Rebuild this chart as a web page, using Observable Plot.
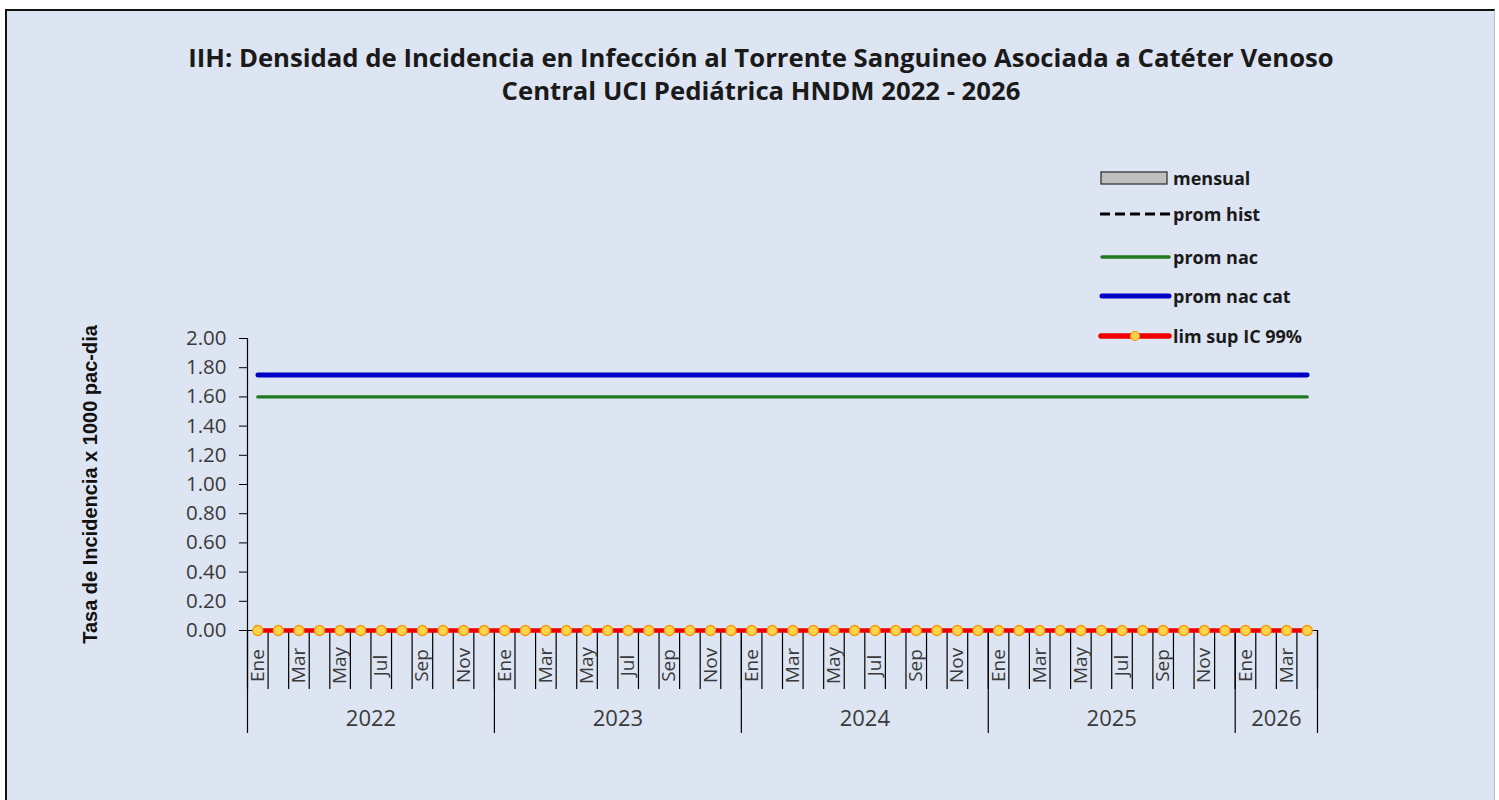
<!DOCTYPE html>
<html>
<head>
<meta charset="utf-8">
<script src="https://cdn.jsdelivr.net/npm/d3@7"></script>
<script src="https://cdn.jsdelivr.net/npm/@observablehq/plot@0.6"></script>
<style>
  html, body { margin: 0; padding: 0; background: #ffffff; width: 1499px; height: 800px; overflow: hidden; }
  #frame { position: absolute; left: 5px; top: 9px; width: 1487px; height: 800px; background: #dde4f2;
           border-top: 2px solid #111; border-left: 2px solid #111; border-right: 1px solid #b8bcc4; }
  #chart { position: absolute; left: 0; top: 0; }
  #title { position: absolute; left: 0; top: 30px; width: 1508px; text-align: center;
           font-family: "Open Sans", Lato, sans-serif; font-weight: 700; font-size: 25.7px; line-height: 33px; color: #1a1a1a; }
  #legend { position: absolute; left: 1086px; top: 160px; font-family: "Open Sans", sans-serif; font-weight: 700; font-size: 18px; color: #1a1a1a; }
  .item { position: absolute; left: 0; height: 24px; display: flex; align-items: center; white-space: nowrap; }
</style>
</head>
<body>
<div id="frame">
  <div id="chart"></div>
  <div id="title">IIH: Densidad de Incidencia en Infección al Torrente Sanguineo Asociada a Catéter Venoso<br>Central UCI Pediátrica HNDM 2022 - 2026</div>
  <div id="legend"></div>
</div>
<script>
// ---- data ----
const monthNames = ["Ene","Feb","Mar","Abr","May","Jun","Jul","Ago","Sep","Oct","Nov","Dic"];
const years = [2022, 2023, 2024, 2025, 2026];
const monthsPerYear = [12, 12, 12, 12, 4];
const yTicks = [0, 0.2, 0.4, 0.6, 0.8, 1.0, 1.2, 1.4, 1.6, 1.8, 2.0];

const mensual = [0,0,0,0,0,0,0,0,0,0,0,0, 0,0,0,0,0,0,0,0,0,0,0,0, 0,0,0,0,0,0,0,0,0,0,0,0, 0,0,0,0,0,0,0,0,0,0,0,0, 0,0,0,0];
const promHist = [0,0,0,0,0,0,0,0,0,0,0,0, 0,0,0,0,0,0,0,0,0,0,0,0, 0,0,0,0,0,0,0,0,0,0,0,0, 0,0,0,0,0,0,0,0,0,0,0,0, 0,0,0,0];
const promNac = [1.60,1.60,1.60,1.60,1.60,1.60,1.60,1.60,1.60,1.60,1.60,1.60, 1.60,1.60,1.60,1.60,1.60,1.60,1.60,1.60,1.60,1.60,1.60,1.60, 1.60,1.60,1.60,1.60,1.60,1.60,1.60,1.60,1.60,1.60,1.60,1.60, 1.60,1.60,1.60,1.60,1.60,1.60,1.60,1.60,1.60,1.60,1.60,1.60, 1.60,1.60,1.60,1.60];
const promNacCat = [1.75,1.75,1.75,1.75,1.75,1.75,1.75,1.75,1.75,1.75,1.75,1.75, 1.75,1.75,1.75,1.75,1.75,1.75,1.75,1.75,1.75,1.75,1.75,1.75, 1.75,1.75,1.75,1.75,1.75,1.75,1.75,1.75,1.75,1.75,1.75,1.75, 1.75,1.75,1.75,1.75,1.75,1.75,1.75,1.75,1.75,1.75,1.75,1.75, 1.75,1.75,1.75,1.75];
const limSup = [0,0,0,0,0,0,0,0,0,0,0,0, 0,0,0,0,0,0,0,0,0,0,0,0, 0,0,0,0,0,0,0,0,0,0,0,0, 0,0,0,0,0,0,0,0,0,0,0,0, 0,0,0,0];

// ---- build table ----
const rows = [];
const yearSpans = [];
let idx = 0;
years.forEach((yr, yi) => {
  yearSpans.push({year: yr, start: idx, end: idx + monthsPerYear[yi]});
  for (let m = 0; m < monthsPerYear[yi]; m++) {
    rows.push({i: idx, i2: idx + 1, c: idx + 0.5, year: yr, m, month: monthNames[m],
      mensual: mensual[idx], promHist: promHist[idx], promNac: promNac[idx],
      promNacCat: promNacCat[idx], limSup: limSup[idx]});
    idx++;
  }
});
const nCat = idx;
const boundaries = d3.range(0, nCat + 1);
const yearBounds = [...yearSpans.map(d => d.start), nCat];

const colors = {mensual: "#bfbfbf", hist: "#000000", nac: "#1f7a1f", cat: "#0000c8", lim: "#ee0000", dot: "#ffd34d", dotStroke: "#f29a00"};
const axisColor = "#000000";
const labelColor = "#3a3a3a";

const chart = Plot.plot({
  width: 1485,
  height: 780,
  marginTop: 327,
  marginLeft: 240,
  marginRight: 175,
  marginBottom: 161,
  style: {background: "transparent", fontFamily: "'Open Sans', sans-serif", color: labelColor},
  x: {type: "linear", domain: [0, nCat], axis: null},
  y: {type: "linear", domain: [0, 2], axis: null},
  marks: [
    // y axis
    Plot.axisY({ticks: yTicks, tickFormat: d3.format(".2f"), tickSize: 8, tickPadding: 13, fontSize: 20.5, stroke: axisColor, color: labelColor, label: null}),
    Plot.ruleX([0], {y1: 0, y2: 2, stroke: axisColor, strokeWidth: 1.2}),
    // y title
    Plot.text(["Tasa de Incidencia x 1000 pac-dia"], {frameAnchor: "left", rotate: -90, dx: -157, textAnchor: "middle", lineAnchor: "middle", fontFamily: "'Liberation Sans', Arial, sans-serif", fontWeight: "bold", fontSize: 20, fill: "#111"}),
    // category separators
    Plot.ruleX(boundaries, {x: d => d, y1: 0, y2: 0, insetBottom: -59, stroke: axisColor, strokeWidth: 1.2}),
    Plot.ruleX(yearBounds, {x: d => d, y1: 0, y2: 0, insetBottom: -103, stroke: axisColor, strokeWidth: 1.2}),
    // month labels
    Plot.text(rows.filter(d => d.m % 2 === 0), {x: "c", y: 0, text: "month", rotate: -90, dy: 35, textAnchor: "middle", lineAnchor: "middle", fontSize: 19, fill: labelColor}),
    // year labels
    Plot.text(yearSpans, {x: d => (d.start + d.end) / 2, y: 0, text: d => String(d.year), dy: 88, fontSize: 22, fill: labelColor}),
    // x baseline
    Plot.ruleY([0], {x1: 0, x2: nCat, stroke: axisColor, strokeWidth: 1.2}),
    // series
    Plot.rectY(rows, {x1: "i", x2: "i2", y: "mensual", insetLeft: 3, insetRight: 3, fill: colors.mensual}),
    Plot.line(rows, {x: "c", y: "promHist", stroke: colors.hist, strokeWidth: 3, strokeDasharray: "9,5"}),
    Plot.line(rows, {x: "c", y: "promNac", stroke: colors.nac, strokeWidth: 3.2, strokeLinecap: "round"}),
    Plot.line(rows, {x: "c", y: "promNacCat", stroke: colors.cat, strokeWidth: 4.8, strokeLinecap: "round"}),
    Plot.line(rows, {x: "c", y: "limSup", stroke: colors.lim, strokeWidth: 4.5, strokeLinecap: "round"}),
    Plot.dot(rows, {x: "c", y: "limSup", r: 5, fill: colors.dot, stroke: colors.dotStroke, strokeWidth: 1.3})
  ]
});
document.getElementById("chart").appendChild(chart);

// ---- legend ----
const legendItems = [
  {label: "mensual", type: "rect"},
  {label: "prom hist", type: "dash"},
  {label: "prom nac", type: "line", color: colors.nac, w: 3.5},
  {label: "prom nac cat", type: "line", color: colors.cat, w: 5},
  {label: "lim sup IC 99%", type: "lim"}
];
const legendTops = [-5, 31, 74, 113, 153];
const legend = document.getElementById("legend");
legendItems.forEach((it, k) => {
  const div = document.createElement("div");
  div.className = "item";
  div.style.top = legendTops[k] + "px";
  let sw = "";
  if (it.type === "rect") sw = `<rect x="8" y="4" width="66" height="12" fill="${colors.mensual}" stroke="#333" stroke-width="1.3"/>`;
  if (it.type === "dash") sw = `<line x1="7" y1="10" x2="77" y2="10" stroke="#000" stroke-width="3" stroke-dasharray="10,5"/>`;
  if (it.type === "line") sw = `<line x1="9" y1="10" x2="76" y2="10" stroke="${it.color}" stroke-width="${it.w}" stroke-linecap="round"/>`;
  if (it.type === "lim") sw = `<line x1="8" y1="10" x2="76" y2="10" stroke="${colors.lim}" stroke-width="5.5" stroke-linecap="round"/><circle cx="42" cy="10" r="4.5" fill="${colors.dot}" stroke="${colors.dotStroke}" stroke-width="1.2"/>`;
  div.innerHTML = `<svg viewBox="0 0 80 20" style="width:80px;height:20px;margin-right:0px">${sw}</svg><span>${it.label}</span>`;
  legend.appendChild(div);
});
</script>
</body>
</html>
